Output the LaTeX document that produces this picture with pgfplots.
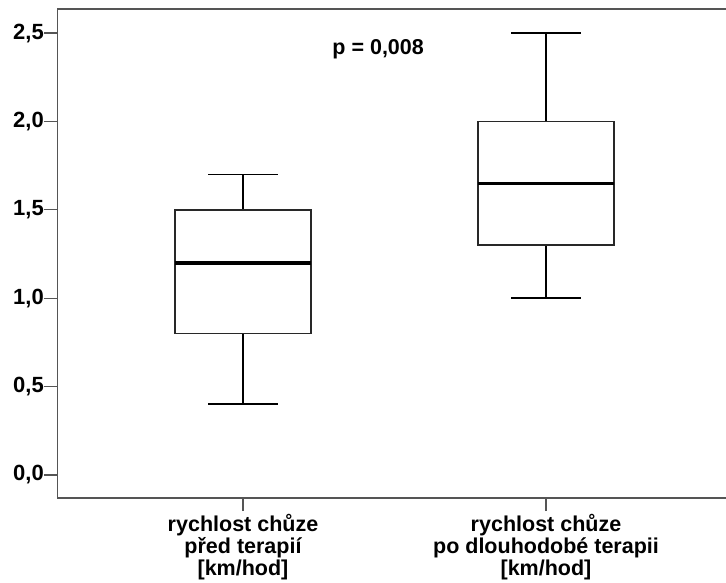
\documentclass[border=0pt]{standalone}
\usepackage{pgfplots}
\pgfplotsset{compat=1.18}
\usepgfplotslibrary{statistics}
\usepackage{fontspec}
\setmainfont{Liberation Sans}
\definecolor{axisgray}{RGB}{85,85,85}
\definecolor{boxgray}{RGB}{40,40,40}
\begin{document}
\begin{tikzpicture}
\begin{axis}[
  at={(0,0)}, anchor=south west,
  scale only axis, width=668.5pt, height=489pt,
  xmin=0.3878, xmax=2.594, ymin=-0.130, ymax=2.636,
  axis x line*=bottom, axis y line*=left,
  axis line style={-, draw=axisgray, line width=1.6pt},
  xtick={1,2},
  xticklabels={{rychlost chůze\\před terapií\\{[km/hod]}},{rychlost chůze\\po dlouhodobé terapii\\{[km/hod]}}},
  ytick={0,0.5,1,1.5,2,2.5},
  tick align=outside, major tick length=13pt,
  tick style={axisgray, line width=1.3pt},
  minor tick num=0,
  /pgf/number format/assume math mode=true,
  yticklabel style={/pgf/number format/use comma, /pgf/number format/fixed, /pgf/number format/fixed zerofill, /pgf/number format/precision=1, inner sep=0.5pt, font=\fontsize{22}{22}\selectfont\bfseries},
  xticklabel style={align=center, inner sep=1pt, yshift=-2pt, font=\fontsize{21.5}{22}\selectfont\bfseries},
  clip=false,
  boxplot/draw direction=y,
  boxplot/every median/.style={draw=black, line width=3.5pt},
  boxplot/every whisker/.style={draw=black, line width=1.8pt},
  boxplot/every box/.style={draw=boxgray, line width=1.4pt},
]
\addplot[draw=boxgray, line width=1.4pt, solid,
  boxplot prepared={median=1.2, upper quartile=1.5, lower quartile=0.8,
    upper whisker=1.7, lower whisker=0.4, draw position=1,
    box extend=0.449, whisker extend=0.228}] coordinates {};
\addplot[draw=boxgray, line width=1.4pt, solid,
  boxplot prepared={median=1.65, upper quartile=2.0, lower quartile=1.3,
    upper whisker=2.5, lower whisker=1.0, draw position=2,
    box extend=0.449, whisker extend=0.228}] coordinates {};
\draw[axisgray, line width=1.6pt] (rel axis cs:0,1) -- (rel axis cs:1,1);
\node[font=\fontsize{21.5}{21.5}\selectfont\bfseries] at (axis cs:1.446,2.41) {p = 0,008};
\end{axis}
\pgfresetboundingbox
\path[use as bounding box] (-57.5pt,-85pt) rectangle (668.5pt,498pt);
\end{tikzpicture}
\end{document}
